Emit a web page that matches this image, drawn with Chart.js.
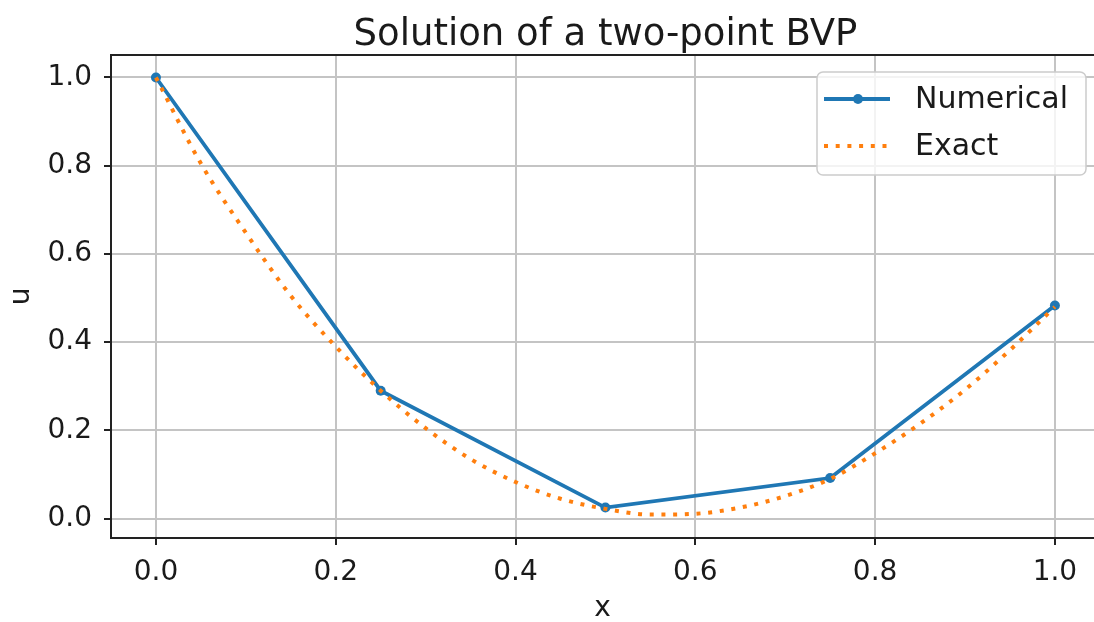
<!DOCTYPE html>
<html>
<head>
<meta charset="utf-8">
<script src="https://cdn.jsdelivr.net/npm/chart.js@4.4.1/dist/chart.umd.min.js"></script>
<style>
    html, body { margin: 0; padding: 0; background: #ffffff; }
    #wrap { width: 1094px; height: 622px; }
</style>
</head>
<body>
<div id="wrap"><canvas id="bvpChart" width="1094" height="622"></canvas></div>
<script>
// values
const numX = [0, 0.25, 0.5, 0.75, 1.0];
const numU = [1.0, 0.29, 0.025, 0.092, 0.483];

const exactX = [0, 0.05, 0.1, 0.15, 0.2, 0.25, 0.3, 0.35, 0.4, 0.45, 0.5,
    0.55, 0.6, 0.65, 0.7, 0.75, 0.8, 0.85, 0.9, 0.95, 1.0];
const exactU = [1.0, 0.805, 0.648, 0.505, 0.39, 0.29, 0.205, 0.135, 0.083, 0.045, 0.022,
    0.009, 0.011, 0.025, 0.051, 0.09, 0.148, 0.215, 0.292, 0.382, 0.48];

const xTicks = [0, 0.2, 0.4, 0.6, 0.8, 1.0];
const yTicks = [0, 0.2, 0.4, 0.6, 0.8, 1.0];

const seriesNames = ["Numerical", "Exact"];
const chartTitle = "Solution of a two-point BVP";

const FONT = "'DejaVu Sans', sans-serif";
const BLUE = "#1f77b4";
const ORANGE = "#ff7f0e";

function toPoints(xs, ys) {
    return xs.map((x, i) => ({ x: x, y: ys[i] }));
}

// matplotlib-like frame, title and legend drawn over the chart
const framePlugin = {
    id: "frame",
    afterDraw(chart) {
        const ctx = chart.ctx;
        const a = chart.chartArea;
        ctx.save();
        ctx.strokeStyle = "#222";
        ctx.lineWidth = 2;
        ctx.beginPath();
        ctx.moveTo(a.left, a.top);
        ctx.lineTo(a.right, a.top);
        ctx.stroke();

        // title centred over the (uncropped) axes
        ctx.fillStyle = "#1a1a1a";
        ctx.font = "37px " + FONT;
        ctx.textAlign = "center";
        ctx.textBaseline = "alphabetic";
        ctx.fillText(chartTitle, chart.scales.x.getPixelForValue(0.5), 45);

        // legend box
        const w = 269, h = 103;
        const bx = a.right - 8 - w;
        const by = a.top + 17;
        ctx.beginPath();
        ctx.roundRect(bx, by, w, h, 6);
        ctx.fillStyle = "rgba(255,255,255,0.8)";
        ctx.fill();
        ctx.strokeStyle = "#cccccc";
        ctx.lineWidth = 1.5;
        ctx.stroke();

        const ds = chart.data.datasets;
        const rows = [by + 27, by + 74];
        ds.forEach((d, i) => {
            const y = rows[i];
            ctx.save();
            ctx.strokeStyle = d.borderColor;
            ctx.lineWidth = d.borderWidth;
            ctx.setLineDash(d.borderDash || []);
            ctx.lineCap = "butt";
            ctx.beginPath();
            ctx.moveTo(bx + 7, y);
            ctx.lineTo(bx + 73, y);
            ctx.stroke();
            ctx.restore();
            if (d.pointRadius > 0) {
                ctx.beginPath();
                ctx.arc(bx + 41, y, d.pointRadius, 0, Math.PI * 2);
                ctx.fillStyle = d.pointBackgroundColor;
                ctx.fill();
            }
            ctx.fillStyle = "#1a1a1a";
            ctx.font = "30px " + FONT;
            ctx.textBaseline = "middle";
            ctx.textAlign = "left";
            ctx.fillText(d.label, bx + 98, y + 1);
        });
        ctx.restore();
    }
};

const ctx = document.getElementById("bvpChart").getContext("2d");

new Chart(ctx, {
    type: "line",
    data: {
        datasets: [
            {
                label: seriesNames[0],
                data: toPoints(numX, numU),
                borderColor: BLUE,
                backgroundColor: BLUE,
                pointBackgroundColor: BLUE,
                pointBorderColor: BLUE,
                pointRadius: 5,
                pointBorderWidth: 0,
                borderWidth: 3.8,
                tension: 0,
                fill: false,
                order: 2,
            },
            {
                label: seriesNames[1],
                data: toPoints(exactX, exactU),
                borderColor: ORANGE,
                backgroundColor: ORANGE,
                borderWidth: 4,
                borderDash: [4, 7.7],
                borderCapStyle: "butt",
                pointRadius: 0,
                cubicInterpolationMode: "monotone",
                fill: false,
                order: 1,
            },
        ],
    },
    options: {
        responsive: false,
        animation: false,
        devicePixelRatio: 1,
        layout: {
            autoPadding: false,
            padding: { top: 55, right: 0, left: 0, bottom: 0 },
        },
        plugins: {
            legend: { display: false },
            tooltip: { enabled: false },
            title: { display: false },
        },
        scales: {
            x: {
                type: "linear",
                min: -0.05,
                max: 1.0435,
                afterBuildTicks: (s) => { s.ticks = xTicks.map((v) => ({ value: v })); },
                afterFit: (s) => {
                    s.height = 84;
                    s.paddingLeft = 0;
                    s.paddingRight = 0;
                },
                ticks: {
                    color: "#1a1a1a",
                    font: { family: FONT, size: 28 },
                    padding: 11,
                    maxRotation: 0,
                    callback: (v) => Number(v).toFixed(1),
                },
                grid: {
                    color: "#c4c4c4",
                    lineWidth: 2,
                    tickColor: "#222",
                    tickWidth: 2,
                    tickLength: 7,
                },
                border: { color: "#222", width: 2 },
                title: {
                    display: true,
                    text: "x",
                    color: "#1a1a1a",
                    font: { family: FONT, size: 28 },
                    padding: { top: 0, bottom: -4 },
                },
            },
            y: {
                type: "linear",
                min: -0.044,
                max: 1.051,
                afterBuildTicks: (s) => { s.ticks = yTicks.map((v) => ({ value: v })); },
                afterFit: (s) => { s.width = 111; },
                ticks: {
                    color: "#1a1a1a",
                    font: { family: FONT, size: 28 },
                    padding: 12,
                    callback: (v) => Number(v).toFixed(1),
                },
                grid: {
                    color: "#c4c4c4",
                    lineWidth: 2,
                    tickColor: "#222",
                    tickWidth: 2,
                    tickLength: 7,
                },
                border: { color: "#222", width: 2 },
                title: {
                    display: true,
                    text: "u",
                    color: "#1a1a1a",
                    font: { family: FONT, size: 28 },
                    padding: { top: 5, bottom: 0 },
                },
            },
        },
    },
    plugins: [framePlugin],
});
</script>
</body>
</html>
